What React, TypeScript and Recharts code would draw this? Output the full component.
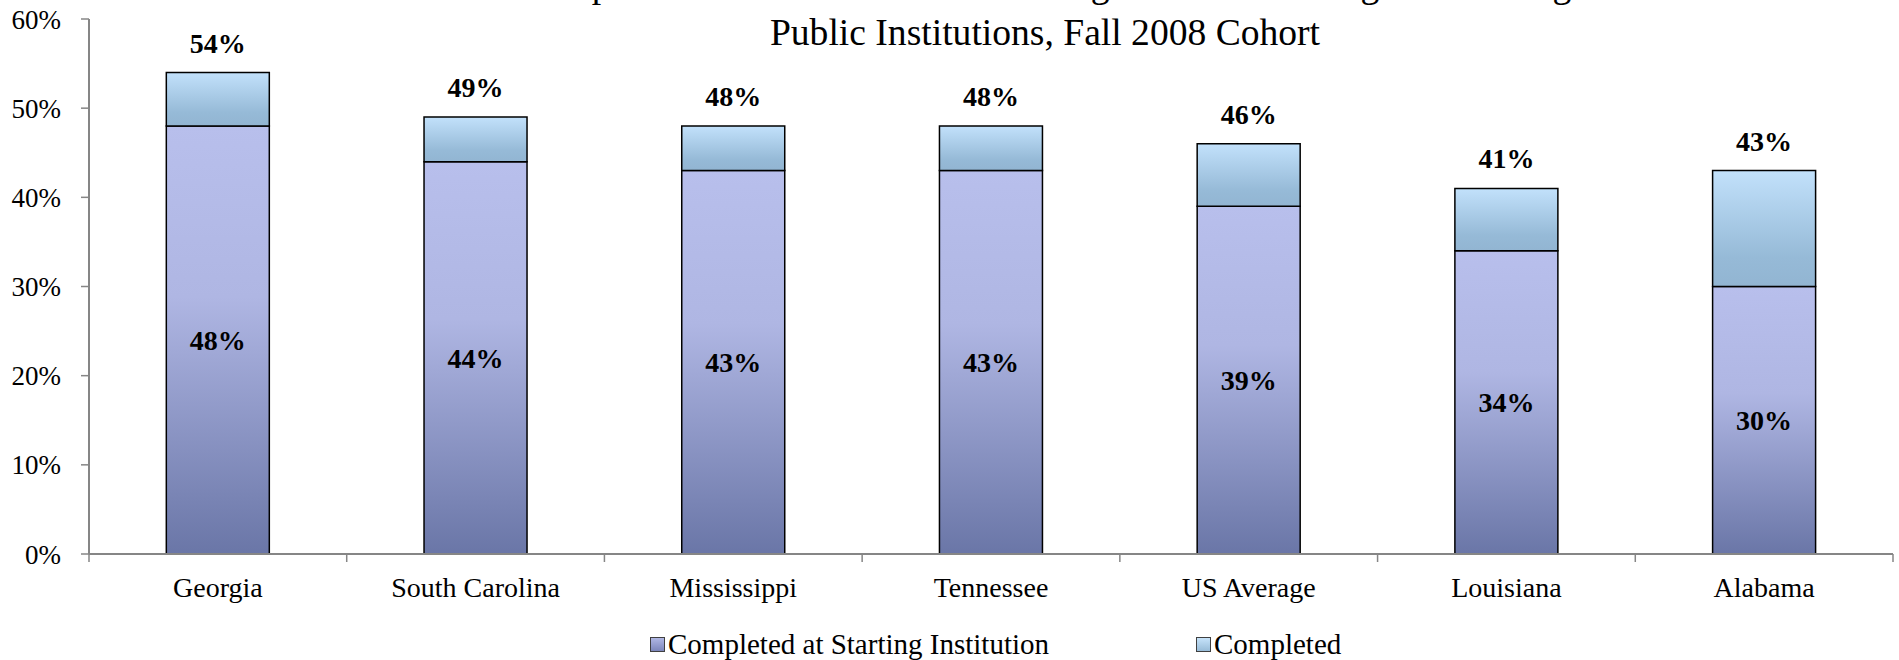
import { BarChart, Bar, XAxis, YAxis, Legend, LabelList } from "recharts";

const states = ["Georgia", "South Carolina", "Mississippi", "Tennessee", "US Average", "Louisiana", "Alabama"];
const atStarting = [48, 44, 43, 43, 39, 34, 30];
const elsewhere = [6, 5, 5, 5, 7, 7, 13];
const totals = [54, 49, 48, 48, 46, 41, 43];
const yTicks = [0, 10, 20, 30, 40, 50, 60];

const titleLines = [
  "Completion Rates for Students Starting at Four-Year Degree-Granting",
  "Public Institutions, Fall 2008 Cohort",
];

const seriesNames = ["Completed at Starting Institution", "Completed"];

const data = states.map((s, i) => ({
  state: s,
  starting: atStarting[i],
  other: elsewhere[i],
  total: totals[i],
}));

const FONT = "'Liberation Serif', 'Times New Roman', serif";
const AXIS = "#868686";
const TICK = 8;
const TICK_GAP = 15;

const CategoryTick = (props: any) => {
  const { x, y, payload, index } = props;
  const half = payload?.offset ?? 0;
  const top = y - TICK - TICK_GAP;
  const last = index === states.length - 1;
  return (
    <g>
      <line x1={x - half} x2={x - half} y1={top} y2={top + TICK} stroke={AXIS} strokeWidth={1.5} />
      {last && <line x1={x + half} x2={x + half} y1={top} y2={top + TICK} stroke={AXIS} strokeWidth={1.5} />}
      <text x={x} y={y} dy="0.71em" textAnchor="middle" fontFamily={FONT} fontSize={28} fill="#000">
        {payload.value}
      </text>
    </g>
  );
};

const LegendBox = () => (
  <div style={{ display: "flex", fontFamily: FONT, fontSize: 29, lineHeight: "32px", color: "#000" }}>
    {seriesNames.map((name, i) => (
      <div key={name} style={{ display: "flex", alignItems: "center", marginLeft: i === 0 ? 650 : 0, width: i === 0 ? 546 : "auto" }}>
        <span
          style={{
            display: "inline-block",
            width: 13,
            height: 13,
            border: "1px solid #404040",
            marginRight: 3,
            background: i === 0 ? "linear-gradient(#b0b7e4, #7c86bb)" : "linear-gradient(#c6e3fa, #98bcd8)",
          }}
        />
        {name}
      </div>
    ))}
  </div>
);

export default function App() {
  return (
    <div style={{ position: "absolute", left: 0, top: 0, width: 1899, height: 660, overflow: "hidden", background: "#fff" }}>
      <BarChart width={1899} height={660} data={data} margin={{ top: 19, right: 6, left: 0, bottom: 0 }} barCategoryGap="30%">
        <defs>
          <linearGradient id="gStart" x1="0" y1="0" x2="0" y2="1">
            <stop offset="0" stopColor="#b8bfec" />
            <stop offset="0.4" stopColor="#afb6e3" />
            <stop offset="1" stopColor="#6a76a7" />
          </linearGradient>
          <linearGradient id="gOther" x1="0" y1="0" x2="0" y2="1">
            <stop offset="0" stopColor="#c2e1fb" />
            <stop offset="0.75" stopColor="#96bad7" />
            <stop offset="1" stopColor="#92b5d2" />
          </linearGradient>
        </defs>
        <XAxis
          dataKey="state"
          height={74}
          tickLine={false}
          tickSize={TICK}
          tickMargin={TICK_GAP}
          axisLine={{ stroke: AXIS, strokeWidth: 2 }}
          tick={<CategoryTick />}
          interval={0}
        />
        <YAxis
          width={89}
          domain={[0, 60]}
          ticks={yTicks}
          tickFormatter={(v: number) => `${v}%`}
          tickSize={TICK}
          tickMargin={20}
          axisLine={{ stroke: AXIS, strokeWidth: 2 }}
          tickLine={{ stroke: AXIS, strokeWidth: 1.5 }}
          tick={{ fontFamily: FONT, fontSize: 27, fill: "#000" }}
        />
        <Legend verticalAlign="bottom" height={32} content={<LegendBox />} wrapperStyle={{ left: 0, width: 1899 }} />
        <Bar dataKey="starting" name={seriesNames[0]} stackId="a" fill="url(#gStart)" stroke="#000" strokeWidth={1.5} isAnimationActive={false}>
          <LabelList dataKey="starting" position="center" formatter={(v: any) => `${v}%`} style={{ fontFamily: FONT, fontSize: 28, fontWeight: "bold", fill: "#000" }} />
        </Bar>
        <Bar dataKey="other" name={seriesNames[1]} stackId="a" fill="url(#gOther)" stroke="#000" strokeWidth={1.5} isAnimationActive={false}>
          <LabelList dataKey="total" position="top" offset={20} formatter={(v: any) => `${v}%`} style={{ fontFamily: FONT, fontSize: 28, fontWeight: "bold", fill: "#000" }} />
        </Bar>
      </BarChart>
      {titleLines.map((line, i) => (
        <div
          key={i}
          style={{
            position: "absolute",
            left: 345,
            width: 1400,
            top: i === 0 ? -34 : 14,
            textAlign: "center",
            fontFamily: FONT,
            fontSize: 37.6,
            lineHeight: "37.6px",
            color: "#000",
            whiteSpace: "nowrap",
            pointerEvents: "none",
          }}
        >
          {line}
        </div>
      ))}
    </div>
  );
}
